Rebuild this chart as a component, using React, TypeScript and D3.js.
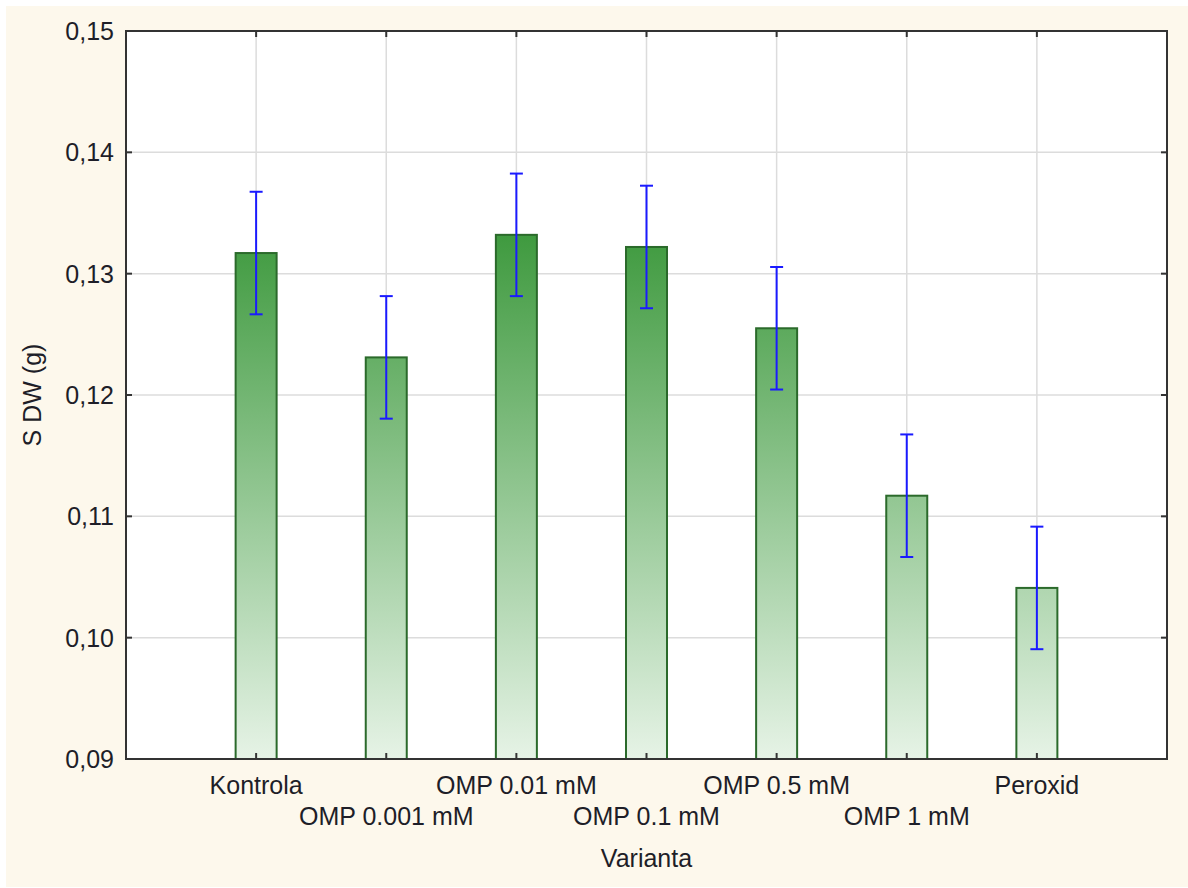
import React from "react";
import * as d3 from "d3";

// Mean S DW per treatment variant, with the error-bar half-width
const categories = [
  "Kontrola",
  "OMP 0.001 mM",
  "OMP 0.01 mM",
  "OMP 0.1 mM",
  "OMP 0.5 mM",
  "OMP 1 mM",
  "Peroxid",
];
const means = [0.1317, 0.1231, 0.1332, 0.1322, 0.1255, 0.1117, 0.1041];
const errors = [0.00505, 0.00505, 0.00505, 0.00505, 0.00505, 0.00505, 0.00505];
const yTicks = [0.09, 0.1, 0.11, 0.12, 0.13, 0.14, 0.15];

const W = 1188;
const H = 888;
const plot = { left: 126, top: 31, right: 1167, bottom: 759 };
const FONT = "Arial, 'Liberation Sans', sans-serif";
const TEXT = "#1e1e28";

export default function App() {
  const x = d3
    .scalePoint<string>()
    .domain(categories)
    .range([plot.left, plot.right])
    .padding(1);
  const y = d3.scaleLinear().domain([0.09, 0.15]).range([plot.bottom, plot.top]);
  const barW = 41;
  const fmt = (v: number) => d3.format(".2f")(v).replace(".", ",");
  const gradTop = y(d3.max(means) as number);

  return (
    <svg
      width={W}
      height={H}
      style={{ position: "absolute", left: 0, top: 0 }}
      fontFamily={FONT}
    >
      <defs>
        <linearGradient
          id="barFill"
          gradientUnits="userSpaceOnUse"
          x1={0}
          x2={0}
          y1={gradTop}
          y2={plot.bottom}
        >
          <stop offset="0%" stopColor="#3f9a3f" />
          <stop offset="100%" stopColor="#e6f3e6" />
        </linearGradient>
      </defs>
      <rect x={0} y={0} width={W} height={H} fill="#ffffff" />
      <rect x={6} y={6} width={W - 6} height={H - 7} fill="#fdf8ec" />
      <rect
        x={plot.left}
        y={plot.top}
        width={plot.right - plot.left}
        height={plot.bottom - plot.top}
        fill="#ffffff"
      />

      {/* grid */}
      {yTicks.map((t) => (
        <line
          key={"gy" + t}
          x1={plot.left}
          x2={plot.right}
          y1={y(t)}
          y2={y(t)}
          stroke="#dcdcdc"
          strokeWidth={1.5}
        />
      ))}
      {categories.map((c) => (
        <line
          key={"gx" + c}
          x1={x(c)}
          x2={x(c)}
          y1={plot.top}
          y2={plot.bottom}
          stroke="#dcdcdc"
          strokeWidth={1.5}
        />
      ))}

      {/* bars */}
      {categories.map((c, i) => (
        <rect
          key={"b" + c}
          x={(x(c) as number) - barW / 2}
          y={y(means[i])}
          width={barW}
          height={plot.bottom - y(means[i])}
          fill="url(#barFill)"
          stroke="#2b6a2b"
          strokeWidth={2}
        />
      ))}

      {/* error bars */}
      {categories.map((c, i) => {
        const cx = x(c) as number;
        const hi = y(means[i] + errors[i]);
        const lo = y(means[i] - errors[i]);
        return (
          <g key={"e" + c} stroke="#1a1aff" strokeWidth={2}>
            <line x1={cx} x2={cx} y1={hi} y2={lo} />
            <line x1={cx - 6.5} x2={cx + 6.5} y1={hi} y2={hi} />
            <line x1={cx - 6.5} x2={cx + 6.5} y1={lo} y2={lo} />
          </g>
        );
      })}

      {/* frame and inward ticks */}
      <rect
        x={plot.left}
        y={plot.top}
        width={plot.right - plot.left}
        height={plot.bottom - plot.top}
        fill="none"
        stroke="#333333"
        strokeWidth={2}
      />
      {yTicks.map((t) => (
        <g key={"ty" + t} stroke="#333333" strokeWidth={2}>
          <line x1={plot.left} x2={plot.left + 6} y1={y(t)} y2={y(t)} />
          <line x1={plot.right} x2={plot.right - 6} y1={y(t)} y2={y(t)} />
        </g>
      ))}
      {categories.map((c) => (
        <g key={"tx" + c} stroke="#333333" strokeWidth={2}>
          <line x1={x(c)} x2={x(c)} y1={plot.top} y2={plot.top + 6} />
          <line x1={x(c)} x2={x(c)} y1={plot.bottom} y2={plot.bottom - 6} />
        </g>
      ))}

      {/* y tick labels */}
      {yTicks.map((t) => (
        <text
          key={"ly" + t}
          x={114}
          y={y(t) + 9}
          textAnchor="end"
          fontSize={25}
          fill={TEXT}
        >
          {fmt(t)}
        </text>
      ))}

      {/* x tick labels, staggered over two rows */}
      {categories.map((c, i) => (
        <text
          key={"lx" + c}
          x={x(c)}
          y={i % 2 === 0 ? 794 : 825}
          textAnchor="middle"
          fontSize={25}
          fill={TEXT}
        >
          {c}
        </text>
      ))}

      {/* axis titles */}
      <text
        x={(plot.left + plot.right) / 2}
        y={867}
        textAnchor="middle"
        fontSize={25}
        fill={TEXT}
      >
        Varianta
      </text>
      <text
        transform={`translate(41, ${(plot.top + plot.bottom) / 2}) rotate(-90)`}
        textAnchor="middle"
        fontSize={25}
        fill={TEXT}
      >
        S DW (g)
      </text>
    </svg>
  );
}
